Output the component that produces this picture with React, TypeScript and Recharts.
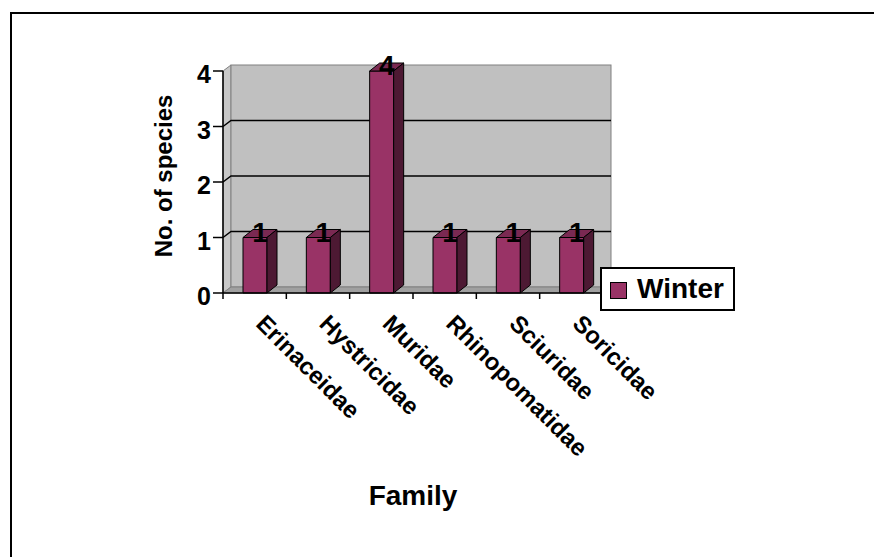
import React from 'react';
import { BarChart, Bar, XAxis, YAxis, ReferenceArea, LabelList, Legend } from 'recharts';

const families = ['Erinaceidae', 'Hystricidae', 'Muridae', 'Rhinopomatidae', 'Sciuridae', 'Soricidae'];
const winterCounts = [1, 1, 4, 1, 1, 1];
const yTicks = [0, 1, 2, 3, 4];
const seriesName = 'Winter';
const xTitle = 'Family';
const yTitle = 'No. of species';

const data = families.map((f, i) => ({ family: f, winter: winterCounts[i] }));

const FONT = 'Arial, "Liberation Sans", Helvetica, sans-serif';
const WALL_DX = 8;
const WALL_DY = 6;
const BAR_DX = 10;
const BAR_DY = 8;
const BAR_FRONT = '#993366';
const BAR_SIDE = '#4d1933';
const BAR_TOP = '#7a2952';

const Walls = (props: any) => {
  const { x, y, width, height } = props;
  const yMax = yTicks[yTicks.length - 1];
  const bottom = y + height;
  const right = x + width;
  const n = families.length;
  return (
    <g>
      <polygon
        points={`${x},${bottom} ${x},${y} ${x + WALL_DX},${y - WALL_DY} ${x + WALL_DX},${bottom - WALL_DY}`}
        fill="#c8c8c8"
        stroke="#808080"
      />
      <rect x={x + WALL_DX} y={y - WALL_DY} width={width} height={height} fill="#c0c0c0" stroke="#808080" />
      <polygon
        points={`${x},${bottom} ${right},${bottom} ${right + WALL_DX},${bottom - WALL_DY} ${x + WALL_DX},${bottom - WALL_DY}`}
        fill="#a0a0a0"
        stroke="#808080"
      />
      {yTicks
        .filter((t) => t > 0 && t < yMax)
        .map((t) => {
          const yy = bottom - (height * t) / yMax;
          return (
            <polyline
              key={t}
              points={`${x},${yy} ${x + WALL_DX},${yy - WALL_DY} ${right + WALL_DX},${yy - WALL_DY}`}
              fill="none"
              stroke="#000"
              strokeWidth={1.5}
            />
          );
        })}
      {Array.from({ length: n + 1 }).map((_, i) => {
        const xx = x + (i * width) / n;
        return <line key={i} x1={xx} y1={bottom} x2={xx} y2={bottom + 6} stroke="#000" strokeWidth={1.5} />;
      })}
    </g>
  );
};

const Bar3D = (props: any) => {
  const { x, y, width, height } = props;
  if (!height || height <= 0) return null;
  return (
    <g stroke="#000" strokeWidth={1} strokeLinejoin="round">
      <rect x={x} y={y} width={width} height={height} fill={BAR_FRONT} />
      <polygon
        points={`${x},${y} ${x + BAR_DX},${y - BAR_DY} ${x + width + BAR_DX},${y - BAR_DY} ${x + width},${y}`}
        fill={BAR_TOP}
      />
      <polygon
        points={`${x + width},${y} ${x + width + BAR_DX},${y - BAR_DY} ${x + width + BAR_DX},${y + height - BAR_DY} ${x + width},${y + height}`}
        fill={BAR_SIDE}
      />
    </g>
  );
};

const ValueLabel = (props: any) => {
  const { x, y, width, value } = props;
  return (
    <text
      x={x + width / 2 + BAR_DX / 2}
      y={y + 4}
      textAnchor="middle"
      fontFamily={FONT}
      fontWeight="bold"
      fontSize={28}
      fill="#000"
    >
      {value}
    </text>
  );
};

const YTick = (props: any) => {
  const { x, y, payload } = props;
  return (
    <g>
      <line x1={x - 10} y1={y} x2={x} y2={y} stroke="#000" strokeWidth={1.5} />
      <text x={x - 12} y={y + 12} textAnchor="end" fontFamily={FONT} fontWeight="bold" fontSize={25} fill="#000">
        {payload.value}
      </text>
    </g>
  );
};

const XTick = (props: any) => {
  const { x, y, payload } = props;
  const ax = x;
  const ay = y + 32;
  return (
    <text
      x={ax}
      y={ay}
      transform={`rotate(45 ${ax} ${ay})`}
      textAnchor="start"
      fontFamily={FONT}
      fontWeight="bold"
      fontSize={24}
      fill="#000"
    >
      {payload.value}
    </text>
  );
};

const XTitle = (props: any) => {
  const vb = props.viewBox || {};
  return (
    <text
      x={vb.x + vb.width / 2}
      y={vb.y + 212}
      textAnchor="middle"
      fontFamily={FONT}
      fontWeight="bold"
      fontSize={28}
      fill="#000"
    >
      {xTitle}
    </text>
  );
};

const YTitle = (props: any) => {
  const vb = props.viewBox || {};
  const tx = vb.x + 172;
  const ty = vb.y + vb.height / 2 - 6;
  return (
    <text
      x={tx}
      y={ty}
      transform={`rotate(-90 ${tx} ${ty})`}
      textAnchor="middle"
      fontFamily={FONT}
      fontWeight="bold"
      fontSize={24}
      fill="#000"
    >
      {yTitle}
    </text>
  );
};

const LegendBox = (props: any) => {
  const items = props.payload || [];
  return (
    <div
      style={{
        boxSizing: 'border-box',
        width: 135,
        height: 44,
        border: '2px solid #000',
        background: '#fff',
        display: 'flex',
        alignItems: 'center',
        fontFamily: FONT,
      }}
    >
      {items.map((it: any) => (
        <div key={it.value} style={{ display: 'flex', alignItems: 'center' }}>
          <span
            style={{
              display: 'inline-block',
              boxSizing: 'border-box',
              width: 17,
              height: 17,
              marginLeft: 8,
              marginRight: 10,
              marginTop: 3,
              background: BAR_FRONT,
              border: '1px solid #000',
            }}
          />
          <span style={{ fontSize: 28, fontWeight: 'bold', lineHeight: 1, color: '#000' }}>{it.value}</span>
        </div>
      ))}
    </div>
  );
};

export default function App() {
  return (
    <div style={{ position: 'fixed', left: 0, top: 0, width: 874, height: 557, overflow: 'hidden', background: '#fff' }}>
      <div
        style={{
          position: 'absolute',
          left: 10,
          top: 12,
          width: 900,
          height: 600,
          border: '2px solid #000',
        }}
      />
      <div style={{ position: 'absolute', left: 0, top: 0 }}>
        <BarChart
          width={874}
          height={557}
          data={data}
          margin={{ top: 71, right: 271, left: 0, bottom: 0 }}
          barSize={24}
        >
          <ReferenceArea y1={0} y2={4} shape={<Walls />} zIndex={-50} ifOverflow="visible" />
          <XAxis
            dataKey="family"
            height={264}
            interval={0}
            tickLine={false}
            tickSize={0}
            tickMargin={0}
            axisLine={{ stroke: '#000', strokeWidth: 1.5 }}
            tick={<XTick />}
            label={{ value: xTitle, content: XTitle }}
          />
          <YAxis
            width={223}
            domain={[0, 4]}
            ticks={yTicks}
            interval={0}
            tickLine={false}
            tickSize={0}
            tickMargin={0}
            axisLine={{ stroke: '#000', strokeWidth: 1.5 }}
            tick={<YTick />}
            label={{ value: yTitle, content: YTitle }}
          />
          <Legend
            layout="vertical"
            align="center"
            verticalAlign="middle"
            wrapperStyle={{ left: 600, top: 267, width: 135, height: 44 }}
            content={<LegendBox />}
          />
          <Bar dataKey="winter" name={seriesName} fill={BAR_FRONT} shape={<Bar3D />} isAnimationActive={false}>
            <LabelList dataKey="winter" content={<ValueLabel />} />
          </Bar>
        </BarChart>
      </div>
    </div>
  );
}
